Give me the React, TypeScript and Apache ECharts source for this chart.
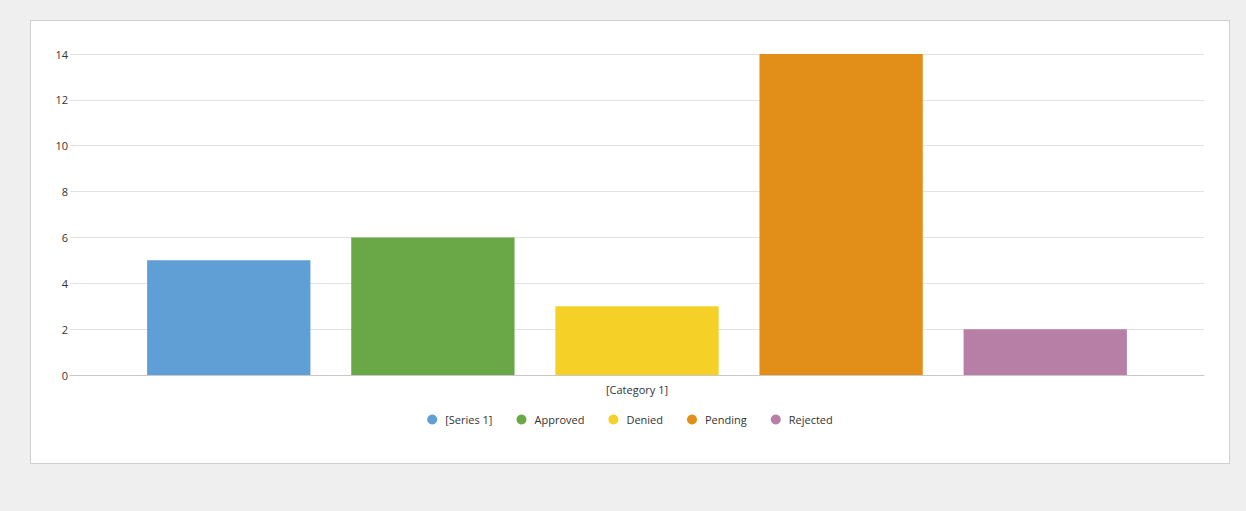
import React, { useEffect, useRef } from "react";
import * as echarts from "echarts";

const categories = ["[Category 1]"];
const seriesNames = ["[Series 1]", "Approved", "Denied", "Pending", "Rejected"];
const seriesValues = [5, 6, 3, 14, 2];
const seriesColors = ["#5f9fd6", "#6aa746", "#f5d128", "#e28f1a", "#b77fa5"];
const yTicks = { min: 0, max: 14, interval: 2 };

export default function App() {
  const ref = useRef<HTMLDivElement>(null);
  useEffect(() => {
    if (!ref.current) return;
    const chart = echarts.init(ref.current, undefined, { renderer: "svg" });
    const font = "'Open Sans', 'Noto Sans', sans-serif";
    chart.setOption({
      animation: false,
      textStyle: { fontFamily: font },
      grid: { left: 39, right: 25, top: 33, bottom: 88, containLabel: false },
      legend: {
        data: seriesNames,
        bottom: 38,
        left: "center",
        icon: "circle",
        itemWidth: 10,
        itemHeight: 10,
        itemGap: 24,
        padding: 0,
        textStyle: { fontSize: 11, color: "#333", fontFamily: font, padding: [0, 0, 0, 3] },
      },
      xAxis: {
        type: "category",
        data: categories,
        axisLine: { lineStyle: { color: "#c8c8c8" } },
        axisTick: { show: false },
        axisLabel: { fontSize: 11, color: "#333", margin: 9, fontFamily: font },
      },
      yAxis: {
        type: "value",
        min: yTicks.min,
        max: yTicks.max,
        interval: yTicks.interval,
        axisLine: { show: false },
        axisTick: { show: false },
        axisLabel: { fontSize: 11, color: "#333", margin: 2, fontFamily: font },
        splitLine: { lineStyle: { color: "#e2e2e2" } },
      },
      series: seriesNames.map((name, i) => ({
        name,
        type: "bar",
        data: [seriesValues[i]],
        itemStyle: { color: seriesColors[i] },
        barGap: "25%",
        barCategoryGap: "13.6%",
      })),
    });
    return () => chart.dispose();
  }, []);
  return (
    <div style={{ position: "fixed", left: 0, top: 0, width: 1246, height: 511, background: "#efefef" }}>
      <div
        style={{
          position: "absolute",
          left: 30,
          top: 20,
          width: 1198,
          height: 442,
          background: "#fff",
          border: "1px solid #cfcfcf",
        }}
      >
        <div ref={ref} style={{ width: 1198, height: 442 }} />
      </div>
    </div>
  );
}
